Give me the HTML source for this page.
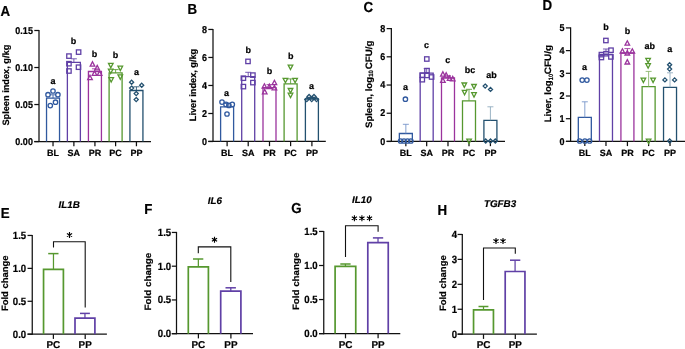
<!DOCTYPE html><html><head><meta charset="utf-8"><title>Figure</title><style>html,body{margin:0;padding:0;background:#fff;}svg{display:block;will-change:transform;text-rendering:geometricPrecision;font-family:"Liberation Sans",sans-serif;}text{stroke:#000;stroke-width:0.2px;}</style></head><body>
<svg width="685" height="349" viewBox="0 0 685 349">
<rect width="685" height="349" fill="#fff"/>
<line x1="39" y1="29.95" x2="39" y2="142.1" stroke="#111" stroke-width="1.25" />
<line x1="34.3" y1="30.5" x2="39" y2="30.5" stroke="#111" stroke-width="1.25" />
<text transform="translate(32.9,33.7) scale(1,1.1)" x="0" y="0" text-anchor="end" font-size="9" font-weight="bold" font-style="normal" fill="#000" >0.15</text>
<line x1="34.3" y1="67.52" x2="39" y2="67.52" stroke="#111" stroke-width="1.25" />
<text transform="translate(32.9,70.72) scale(1,1.1)" x="0" y="0" text-anchor="end" font-size="9" font-weight="bold" font-style="normal" fill="#000" >0.10</text>
<line x1="34.3" y1="104.53" x2="39" y2="104.53" stroke="#111" stroke-width="1.25" />
<text transform="translate(32.9,107.73) scale(1,1.1)" x="0" y="0" text-anchor="end" font-size="9" font-weight="bold" font-style="normal" fill="#000" >0.05</text>
<line x1="34.3" y1="141.55" x2="39" y2="141.55" stroke="#111" stroke-width="1.25" />
<text transform="translate(32.9,144.75) scale(1,1.1)" x="0" y="0" text-anchor="end" font-size="9" font-weight="bold" font-style="normal" fill="#000" >0.00</text>
<line x1="34.3" y1="141.55" x2="151" y2="141.55" stroke="#111" stroke-width="1.25" />
<line x1="53.03" y1="141.55" x2="53.03" y2="146.25" stroke="#111" stroke-width="1.25" />
<text x="53.03" y="156.2" text-anchor="middle" font-size="9" font-weight="bold" font-style="normal" fill="#000" >BL</text>
<line x1="73.88" y1="141.55" x2="73.88" y2="146.25" stroke="#111" stroke-width="1.25" />
<text x="73.88" y="156.2" text-anchor="middle" font-size="9" font-weight="bold" font-style="normal" fill="#000" >SA</text>
<line x1="94.93" y1="141.55" x2="94.93" y2="146.25" stroke="#111" stroke-width="1.25" />
<text x="94.93" y="156.2" text-anchor="middle" font-size="9" font-weight="bold" font-style="normal" fill="#000" >PR</text>
<line x1="115.6" y1="141.55" x2="115.6" y2="146.25" stroke="#111" stroke-width="1.25" />
<text x="115.6" y="156.2" text-anchor="middle" font-size="9" font-weight="bold" font-style="normal" fill="#000" >PC</text>
<line x1="136.43" y1="141.55" x2="136.43" y2="146.25" stroke="#111" stroke-width="1.25" />
<text x="136.43" y="156.2" text-anchor="middle" font-size="9" font-weight="bold" font-style="normal" fill="#000" >PP</text>
<polyline points="46.53,141.55 46.53,98.2 59.53,98.2 59.53,141.55" fill="none" stroke="#30599f" stroke-width="1.3" stroke-linejoin="miter"/>
<line x1="53.03" y1="98.2" x2="53.03" y2="94.8" stroke="#30599f" stroke-width="0.85" />
<line x1="50.03" y1="94.8" x2="56.03" y2="94.8" stroke="#30599f" stroke-width="0.85" />
<circle cx="53" cy="91" r="2.2" fill="none" stroke="#30599f" stroke-width="1.3"/>
<circle cx="48" cy="94.7" r="2.2" fill="none" stroke="#30599f" stroke-width="1.3"/>
<circle cx="57.9" cy="94.7" r="2.2" fill="none" stroke="#30599f" stroke-width="1.3"/>
<circle cx="55.5" cy="102.2" r="2.2" fill="none" stroke="#30599f" stroke-width="1.3"/>
<circle cx="50.3" cy="105.6" r="2.2" fill="none" stroke="#30599f" stroke-width="1.3"/>
<text x="52.9" y="83.6" text-anchor="middle" font-size="9" font-weight="bold" font-style="normal" fill="#000" >a</text>
<polyline points="67.38,141.55 67.38,62.3 80.38,62.3 80.38,141.55" fill="none" stroke="#6040a6" stroke-width="1.3" stroke-linejoin="miter"/>
<line x1="73.88" y1="62.3" x2="73.88" y2="58.8" stroke="#6040a6" stroke-width="0.85" />
<line x1="70.88" y1="58.8" x2="76.88" y2="58.8" stroke="#6040a6" stroke-width="0.85" />
<rect x="76.4" y="49.9" width="4.4" height="4.4" fill="none" stroke="#6040a6" stroke-width="1.3"/>
<rect x="66.75" y="53.9" width="4.4" height="4.4" fill="none" stroke="#6040a6" stroke-width="1.3"/>
<rect x="66.75" y="61.5" width="4.4" height="4.4" fill="none" stroke="#6040a6" stroke-width="1.3"/>
<rect x="76.3" y="65" width="4.4" height="4.4" fill="none" stroke="#6040a6" stroke-width="1.3"/>
<rect x="66.75" y="68.8" width="4.4" height="4.4" fill="none" stroke="#6040a6" stroke-width="1.3"/>
<text x="73.5" y="43.6" text-anchor="middle" font-size="9" font-weight="bold" font-style="normal" fill="#000" >b</text>
<polyline points="88.43,141.55 88.43,71.5 101.43,71.5 101.43,141.55" fill="none" stroke="#9b339d" stroke-width="1.3" stroke-linejoin="miter"/>
<line x1="94.93" y1="71.5" x2="94.93" y2="68.8" stroke="#9b339d" stroke-width="0.85" />
<line x1="91.93" y1="68.8" x2="97.93" y2="68.8" stroke="#9b339d" stroke-width="0.85" />
<polygon points="92.5,61.7 94.8,66.1 90.2,66.1" fill="none" stroke="#9b339d" stroke-width="1.3" stroke-linejoin="miter"/>
<polygon points="97.2,65.4 99.5,69.8 94.9,69.8" fill="none" stroke="#9b339d" stroke-width="1.3" stroke-linejoin="miter"/>
<polygon points="94.5,71 96.8,75.4 92.2,75.4" fill="none" stroke="#9b339d" stroke-width="1.3" stroke-linejoin="miter"/>
<polygon points="99.6,71 101.9,75.4 97.3,75.4" fill="none" stroke="#9b339d" stroke-width="1.3" stroke-linejoin="miter"/>
<polygon points="90,75.2 92.3,79.6 87.7,79.6" fill="none" stroke="#9b339d" stroke-width="1.3" stroke-linejoin="miter"/>
<text x="94.5" y="56.8" text-anchor="middle" font-size="9" font-weight="bold" font-style="normal" fill="#000" >b</text>
<polyline points="109.1,141.55 109.1,72.9 122.1,72.9 122.1,141.55" fill="none" stroke="#56982f" stroke-width="1.3" stroke-linejoin="miter"/>
<line x1="115.6" y1="72.9" x2="115.6" y2="69.6" stroke="#56982f" stroke-width="0.85" />
<line x1="112.6" y1="69.6" x2="118.6" y2="69.6" stroke="#56982f" stroke-width="0.85" />
<polygon points="110.8,67.8 113.1,63.4 108.5,63.4" fill="none" stroke="#56982f" stroke-width="1.3" stroke-linejoin="miter"/>
<polygon points="120.3,70.6 122.6,66.2 118,66.2" fill="none" stroke="#56982f" stroke-width="1.3" stroke-linejoin="miter"/>
<polygon points="110.7,73.5 113,69.1 108.4,69.1" fill="none" stroke="#56982f" stroke-width="1.3" stroke-linejoin="miter"/>
<polygon points="120.3,79.3 122.6,74.9 118,74.9" fill="none" stroke="#56982f" stroke-width="1.3" stroke-linejoin="miter"/>
<polygon points="111.2,82 113.5,77.6 108.9,77.6" fill="none" stroke="#56982f" stroke-width="1.3" stroke-linejoin="miter"/>
<text x="115.4" y="57.7" text-anchor="middle" font-size="9" font-weight="bold" font-style="normal" fill="#000" >b</text>
<polyline points="129.93,141.55 129.93,90.5 142.93,90.5 142.93,141.55" fill="none" stroke="#23506f" stroke-width="1.3" stroke-linejoin="miter"/>
<line x1="136.43" y1="90.5" x2="136.43" y2="86.8" stroke="#23506f" stroke-width="0.85" />
<line x1="133.43" y1="86.8" x2="139.43" y2="86.8" stroke="#23506f" stroke-width="0.85" />
<polygon points="131.6,80.15 133.65,82.2 131.6,84.25 129.55,82.2" fill="none" stroke="#23506f" stroke-width="1.3" stroke-linejoin="miter"/>
<polygon points="141.7,83.15 143.75,85.2 141.7,87.25 139.65,85.2" fill="none" stroke="#23506f" stroke-width="1.3" stroke-linejoin="miter"/>
<polygon points="131.6,86.05 133.65,88.1 131.6,90.15 129.55,88.1" fill="none" stroke="#23506f" stroke-width="1.3" stroke-linejoin="miter"/>
<polygon points="136.2,91.55 138.25,93.6 136.2,95.65 134.15,93.6" fill="none" stroke="#23506f" stroke-width="1.3" stroke-linejoin="miter"/>
<polygon points="136.2,97.55 138.25,99.6 136.2,101.65 134.15,99.6" fill="none" stroke="#23506f" stroke-width="1.3" stroke-linejoin="miter"/>
<text x="136.4" y="74.7" text-anchor="middle" font-size="9" font-weight="bold" font-style="normal" fill="#000" >a</text>
<text transform="translate(9.4,125.6) rotate(-90)" x="0" y="0" text-anchor="start" font-size="9.25" font-weight="bold" fill="#000" textLength="80.9" lengthAdjust="spacingAndGlyphs">Spleen index, g/kg</text>
<text transform="translate(0.6,15.6) scale(1,1.09)" x="0" y="0" text-anchor="start" font-size="13.3" font-weight="bold" font-style="normal" fill="#000" >A</text>
<line x1="213" y1="28.9" x2="213" y2="142" stroke="#111" stroke-width="1.25" />
<line x1="208.3" y1="29.45" x2="213" y2="29.45" stroke="#111" stroke-width="1.25" />
<text transform="translate(206.9,32.65) scale(1,1.1)" x="0" y="0" text-anchor="end" font-size="9" font-weight="bold" font-style="normal" fill="#000" >8</text>
<line x1="208.3" y1="57.46" x2="213" y2="57.46" stroke="#111" stroke-width="1.25" />
<text transform="translate(206.9,60.66) scale(1,1.1)" x="0" y="0" text-anchor="end" font-size="9" font-weight="bold" font-style="normal" fill="#000" >6</text>
<line x1="208.3" y1="85.47" x2="213" y2="85.47" stroke="#111" stroke-width="1.25" />
<text transform="translate(206.9,88.67) scale(1,1.1)" x="0" y="0" text-anchor="end" font-size="9" font-weight="bold" font-style="normal" fill="#000" >4</text>
<line x1="208.3" y1="113.49" x2="213" y2="113.49" stroke="#111" stroke-width="1.25" />
<text transform="translate(206.9,116.69) scale(1,1.1)" x="0" y="0" text-anchor="end" font-size="9" font-weight="bold" font-style="normal" fill="#000" >2</text>
<line x1="208.3" y1="141.5" x2="213" y2="141.5" stroke="#111" stroke-width="1.25" />
<text transform="translate(206.9,144.7) scale(1,1.1)" x="0" y="0" text-anchor="end" font-size="9" font-weight="bold" font-style="normal" fill="#000" >0</text>
<line x1="208.3" y1="141.45" x2="325.8" y2="141.45" stroke="#111" stroke-width="1.25" />
<line x1="227.11" y1="141.45" x2="227.11" y2="146.15" stroke="#111" stroke-width="1.25" />
<text x="227.11" y="156" text-anchor="middle" font-size="9" font-weight="bold" font-style="normal" fill="#000" >BL</text>
<line x1="248.21" y1="141.45" x2="248.21" y2="146.15" stroke="#111" stroke-width="1.25" />
<text x="248.21" y="156" text-anchor="middle" font-size="9" font-weight="bold" font-style="normal" fill="#000" >SA</text>
<line x1="269.5" y1="141.45" x2="269.5" y2="146.15" stroke="#111" stroke-width="1.25" />
<text x="269.5" y="156" text-anchor="middle" font-size="9" font-weight="bold" font-style="normal" fill="#000" >PR</text>
<line x1="290.6" y1="141.45" x2="290.6" y2="146.15" stroke="#111" stroke-width="1.25" />
<text x="290.6" y="156" text-anchor="middle" font-size="9" font-weight="bold" font-style="normal" fill="#000" >PC</text>
<line x1="311.9" y1="141.45" x2="311.9" y2="146.15" stroke="#111" stroke-width="1.25" />
<text x="311.9" y="156" text-anchor="middle" font-size="9" font-weight="bold" font-style="normal" fill="#000" >PP</text>
<polyline points="220.61,141.45 220.61,106.8 233.61,106.8 233.61,141.45" fill="none" stroke="#30599f" stroke-width="1.3" stroke-linejoin="miter"/>
<line x1="227.11" y1="106.8" x2="227.11" y2="103.5" stroke="#30599f" stroke-width="0.85" />
<line x1="224.11" y1="103.5" x2="230.11" y2="103.5" stroke="#30599f" stroke-width="0.85" />
<circle cx="222" cy="102.1" r="2.2" fill="none" stroke="#30599f" stroke-width="1.3"/>
<circle cx="226" cy="104.4" r="2.2" fill="none" stroke="#30599f" stroke-width="1.3"/>
<circle cx="228.9" cy="105.4" r="2.2" fill="none" stroke="#30599f" stroke-width="1.3"/>
<circle cx="232.3" cy="104.4" r="2.2" fill="none" stroke="#30599f" stroke-width="1.3"/>
<circle cx="227" cy="114" r="2.2" fill="none" stroke="#30599f" stroke-width="1.3"/>
<text x="226.6" y="95.6" text-anchor="middle" font-size="9" font-weight="bold" font-style="normal" fill="#000" >a</text>
<polyline points="241.71,141.45 241.71,76.6 254.71,76.6 254.71,141.45" fill="none" stroke="#6040a6" stroke-width="1.3" stroke-linejoin="miter"/>
<line x1="248.21" y1="76.6" x2="248.21" y2="72.3" stroke="#6040a6" stroke-width="0.85" />
<line x1="245.21" y1="72.3" x2="251.21" y2="72.3" stroke="#6040a6" stroke-width="0.85" />
<rect x="245.8" y="59.2" width="4.4" height="4.4" fill="none" stroke="#6040a6" stroke-width="1.3"/>
<rect x="250.7" y="72.9" width="4.4" height="4.4" fill="none" stroke="#6040a6" stroke-width="1.3"/>
<rect x="241.2" y="76" width="4.4" height="4.4" fill="none" stroke="#6040a6" stroke-width="1.3"/>
<rect x="250.7" y="80.4" width="4.4" height="4.4" fill="none" stroke="#6040a6" stroke-width="1.3"/>
<rect x="241.2" y="84.4" width="4.4" height="4.4" fill="none" stroke="#6040a6" stroke-width="1.3"/>
<text x="248.3" y="53.2" text-anchor="middle" font-size="9" font-weight="bold" font-style="normal" fill="#000" >b</text>
<polyline points="263,141.45 263,87.7 276,87.7 276,141.45" fill="none" stroke="#9b339d" stroke-width="1.3" stroke-linejoin="miter"/>
<line x1="269.5" y1="87.7" x2="269.5" y2="84.6" stroke="#9b339d" stroke-width="0.85" />
<line x1="266.5" y1="84.6" x2="272.5" y2="84.6" stroke="#9b339d" stroke-width="0.85" />
<polygon points="264.4,83.8 266.7,88.2 262.1,88.2" fill="none" stroke="#9b339d" stroke-width="1.3" stroke-linejoin="miter"/>
<polygon points="269.3,84.1 271.6,88.5 267,88.5" fill="none" stroke="#9b339d" stroke-width="1.3" stroke-linejoin="miter"/>
<polygon points="274.4,80.3 276.7,84.7 272.1,84.7" fill="none" stroke="#9b339d" stroke-width="1.3" stroke-linejoin="miter"/>
<polygon points="274.4,85.4 276.7,89.8 272.1,89.8" fill="none" stroke="#9b339d" stroke-width="1.3" stroke-linejoin="miter"/>
<polygon points="264.7,89.4 267,93.8 262.4,93.8" fill="none" stroke="#9b339d" stroke-width="1.3" stroke-linejoin="miter"/>
<text x="269.5" y="74.4" text-anchor="middle" font-size="9" font-weight="bold" font-style="normal" fill="#000" >b</text>
<polyline points="284.1,141.45 284.1,83.8 297.1,83.8 297.1,141.45" fill="none" stroke="#56982f" stroke-width="1.3" stroke-linejoin="miter"/>
<line x1="290.6" y1="83.8" x2="290.6" y2="78.9" stroke="#56982f" stroke-width="0.85" />
<line x1="287.6" y1="78.9" x2="293.6" y2="78.9" stroke="#56982f" stroke-width="0.85" />
<polygon points="290.5,69.5 292.8,65.1 288.2,65.1" fill="none" stroke="#56982f" stroke-width="1.3" stroke-linejoin="miter"/>
<polygon points="285.4,82.7 287.7,78.3 283.1,78.3" fill="none" stroke="#56982f" stroke-width="1.3" stroke-linejoin="miter"/>
<polygon points="295.1,82.7 297.4,78.3 292.8,78.3" fill="none" stroke="#56982f" stroke-width="1.3" stroke-linejoin="miter"/>
<polygon points="290.5,92.9 292.8,88.5 288.2,88.5" fill="none" stroke="#56982f" stroke-width="1.3" stroke-linejoin="miter"/>
<polygon points="290.5,97.6 292.8,93.2 288.2,93.2" fill="none" stroke="#56982f" stroke-width="1.3" stroke-linejoin="miter"/>
<text x="290.7" y="59.3" text-anchor="middle" font-size="9" font-weight="bold" font-style="normal" fill="#000" >b</text>
<polyline points="305.4,141.45 305.4,99 318.4,99 318.4,141.45" fill="none" stroke="#23506f" stroke-width="1.3" stroke-linejoin="miter"/>
<line x1="311.9" y1="99" x2="311.9" y2="97.2" stroke="#23506f" stroke-width="0.85" />
<line x1="308.9" y1="97.2" x2="314.9" y2="97.2" stroke="#23506f" stroke-width="0.85" />
<polygon points="306.8,97.55 308.85,99.6 306.8,101.65 304.75,99.6" fill="none" stroke="#23506f" stroke-width="1.3" stroke-linejoin="miter"/>
<polygon points="309.1,94.45 311.15,96.5 309.1,98.55 307.05,96.5" fill="none" stroke="#23506f" stroke-width="1.3" stroke-linejoin="miter"/>
<polygon points="311.7,97.55 313.75,99.6 311.7,101.65 309.65,99.6" fill="none" stroke="#23506f" stroke-width="1.3" stroke-linejoin="miter"/>
<polygon points="314,94.45 316.05,96.5 314,98.55 311.95,96.5" fill="none" stroke="#23506f" stroke-width="1.3" stroke-linejoin="miter"/>
<polygon points="316.5,97.55 318.55,99.6 316.5,101.65 314.45,99.6" fill="none" stroke="#23506f" stroke-width="1.3" stroke-linejoin="miter"/>
<text x="311.6" y="88.8" text-anchor="middle" font-size="9" font-weight="bold" font-style="normal" fill="#000" >a</text>
<text transform="translate(195.8,121.2) rotate(-90)" x="0" y="0" text-anchor="start" font-size="9.25" font-weight="bold" fill="#000" textLength="72.4" lengthAdjust="spacingAndGlyphs">Liver index, g/kg</text>
<text transform="translate(187.6,13.8) scale(1,1.09)" x="0" y="0" text-anchor="start" font-size="13.3" font-weight="bold" font-style="normal" fill="#000" >B</text>
<line x1="391.35" y1="28.05" x2="391.35" y2="142" stroke="#111" stroke-width="1.25" />
<line x1="386.65" y1="28.6" x2="391.35" y2="28.6" stroke="#111" stroke-width="1.25" />
<text transform="translate(385.25,31.8) scale(1,1.1)" x="0" y="0" text-anchor="end" font-size="9" font-weight="bold" font-style="normal" fill="#000" >8</text>
<line x1="386.65" y1="56.81" x2="391.35" y2="56.81" stroke="#111" stroke-width="1.25" />
<text transform="translate(385.25,60.01) scale(1,1.1)" x="0" y="0" text-anchor="end" font-size="9" font-weight="bold" font-style="normal" fill="#000" >6</text>
<line x1="386.65" y1="85.03" x2="391.35" y2="85.03" stroke="#111" stroke-width="1.25" />
<text transform="translate(385.25,88.23) scale(1,1.1)" x="0" y="0" text-anchor="end" font-size="9" font-weight="bold" font-style="normal" fill="#000" >4</text>
<line x1="386.65" y1="113.24" x2="391.35" y2="113.24" stroke="#111" stroke-width="1.25" />
<text transform="translate(385.25,116.44) scale(1,1.1)" x="0" y="0" text-anchor="end" font-size="9" font-weight="bold" font-style="normal" fill="#000" >2</text>
<line x1="386.65" y1="141.45" x2="391.35" y2="141.45" stroke="#111" stroke-width="1.25" />
<text transform="translate(385.25,144.65) scale(1,1.1)" x="0" y="0" text-anchor="end" font-size="9" font-weight="bold" font-style="normal" fill="#000" >0</text>
<line x1="386.65" y1="141.45" x2="505" y2="141.45" stroke="#111" stroke-width="1.25" />
<line x1="405.85" y1="141.45" x2="405.85" y2="146.15" stroke="#111" stroke-width="1.25" />
<text x="405.85" y="155.8" text-anchor="middle" font-size="9" font-weight="bold" font-style="normal" fill="#000" >BL</text>
<line x1="426.68" y1="141.45" x2="426.68" y2="146.15" stroke="#111" stroke-width="1.25" />
<text x="426.68" y="155.8" text-anchor="middle" font-size="9" font-weight="bold" font-style="normal" fill="#000" >SA</text>
<line x1="447.99" y1="141.45" x2="447.99" y2="146.15" stroke="#111" stroke-width="1.25" />
<text x="447.99" y="155.8" text-anchor="middle" font-size="9" font-weight="bold" font-style="normal" fill="#000" >PR</text>
<line x1="469" y1="141.45" x2="469" y2="146.15" stroke="#111" stroke-width="1.25" />
<text x="469" y="155.8" text-anchor="middle" font-size="9" font-weight="bold" font-style="normal" fill="#000" >PC</text>
<line x1="490.41" y1="141.45" x2="490.41" y2="146.15" stroke="#111" stroke-width="1.25" />
<text x="490.41" y="155.8" text-anchor="middle" font-size="9" font-weight="bold" font-style="normal" fill="#000" >PP</text>
<polyline points="399.35,141.45 399.35,133.5 412.35,133.5 412.35,141.45" fill="none" stroke="#30599f" stroke-width="1.3" stroke-linejoin="miter"/>
<line x1="405.85" y1="133.5" x2="405.85" y2="124.3" stroke="#6f8fc6" stroke-width="0.85" />
<line x1="402.85" y1="124.3" x2="408.85" y2="124.3" stroke="#6f8fc6" stroke-width="0.85" />
<circle cx="405.4" cy="99.2" r="2.2" fill="none" stroke="#30599f" stroke-width="1.3"/>
<circle cx="400.6" cy="141" r="2.2" fill="none" stroke="#30599f" stroke-width="1.3"/>
<circle cx="404" cy="141" r="2.2" fill="none" stroke="#30599f" stroke-width="1.3"/>
<circle cx="407.5" cy="141" r="2.2" fill="none" stroke="#30599f" stroke-width="1.3"/>
<circle cx="410.9" cy="141" r="2.2" fill="none" stroke="#30599f" stroke-width="1.3"/>
<text x="405.4" y="89.7" text-anchor="middle" font-size="9" font-weight="bold" font-style="normal" fill="#000" >a</text>
<polyline points="420.18,141.45 420.18,73.2 433.18,73.2 433.18,141.45" fill="none" stroke="#6040a6" stroke-width="1.3" stroke-linejoin="miter"/>
<line x1="426.68" y1="73.2" x2="426.68" y2="68.6" stroke="#6040a6" stroke-width="0.85" />
<line x1="423.68" y1="68.6" x2="429.68" y2="68.6" stroke="#6040a6" stroke-width="0.85" />
<rect x="424.6" y="56.8" width="4.4" height="4.4" fill="none" stroke="#6040a6" stroke-width="1.3"/>
<rect x="424.8" y="68.4" width="4.4" height="4.4" fill="none" stroke="#6040a6" stroke-width="1.3"/>
<rect x="420.1" y="73" width="4.4" height="4.4" fill="none" stroke="#6040a6" stroke-width="1.3"/>
<rect x="424.8" y="73.2" width="4.4" height="4.4" fill="none" stroke="#6040a6" stroke-width="1.3"/>
<rect x="429.4" y="74.8" width="4.4" height="4.4" fill="none" stroke="#6040a6" stroke-width="1.3"/>
<rect x="420.1" y="77.5" width="4.4" height="4.4" fill="none" stroke="#6040a6" stroke-width="1.3"/>
<text x="426.5" y="48.1" text-anchor="middle" font-size="9" font-weight="bold" font-style="normal" fill="#000" >c</text>
<polyline points="441.49,141.45 441.49,78 454.49,78 454.49,141.45" fill="none" stroke="#9b339d" stroke-width="1.3" stroke-linejoin="miter"/>
<line x1="447.99" y1="78" x2="447.99" y2="75.8" stroke="#9b339d" stroke-width="0.85" />
<line x1="444.99" y1="75.8" x2="450.99" y2="75.8" stroke="#9b339d" stroke-width="0.85" />
<polygon points="442.9,71.7 445.2,76.1 440.6,76.1" fill="none" stroke="#9b339d" stroke-width="1.3" stroke-linejoin="miter"/>
<polygon points="446.2,72.7 448.5,77.1 443.9,77.1" fill="none" stroke="#9b339d" stroke-width="1.3" stroke-linejoin="miter"/>
<polygon points="449.6,75.9 451.9,80.3 447.3,80.3" fill="none" stroke="#9b339d" stroke-width="1.3" stroke-linejoin="miter"/>
<polygon points="452.7,76.4 455,80.8 450.4,80.8" fill="none" stroke="#9b339d" stroke-width="1.3" stroke-linejoin="miter"/>
<polygon points="442.9,78 445.2,82.4 440.6,82.4" fill="none" stroke="#9b339d" stroke-width="1.3" stroke-linejoin="miter"/>
<text x="447.7" y="63.2" text-anchor="middle" font-size="9" font-weight="bold" font-style="normal" fill="#000" >c</text>
<polyline points="462.5,141.45 462.5,100.8 475.5,100.8 475.5,141.45" fill="none" stroke="#56982f" stroke-width="1.3" stroke-linejoin="miter"/>
<line x1="469" y1="100.8" x2="469" y2="89.3" stroke="#56982f" stroke-width="0.85" />
<line x1="466" y1="89.3" x2="472" y2="89.3" stroke="#56982f" stroke-width="0.85" />
<polygon points="464.3,87.4 466.6,83 462,83" fill="none" stroke="#56982f" stroke-width="1.3" stroke-linejoin="miter"/>
<polygon points="474,88.9 476.3,84.5 471.7,84.5" fill="none" stroke="#56982f" stroke-width="1.3" stroke-linejoin="miter"/>
<polygon points="464.6,94.8 466.9,90.4 462.3,90.4" fill="none" stroke="#56982f" stroke-width="1.3" stroke-linejoin="miter"/>
<polygon points="474,97.1 476.3,92.7 471.7,92.7" fill="none" stroke="#56982f" stroke-width="1.3" stroke-linejoin="miter"/>
<polygon points="469.1,143.5 471.4,139.1 466.8,139.1" fill="none" stroke="#56982f" stroke-width="1.3" stroke-linejoin="miter"/>
<text x="470" y="72.6" text-anchor="middle" font-size="9" font-weight="bold" font-style="normal" fill="#000" >bc</text>
<polyline points="483.91,141.45 483.91,120.3 496.91,120.3 496.91,141.45" fill="none" stroke="#23506f" stroke-width="1.3" stroke-linejoin="miter"/>
<line x1="490.41" y1="120.3" x2="490.41" y2="106.8" stroke="#8aa6ba" stroke-width="0.85" />
<line x1="487.41" y1="106.8" x2="493.41" y2="106.8" stroke="#8aa6ba" stroke-width="0.85" />
<polygon points="485.2,84.05 487.25,86.1 485.2,88.15 483.15,86.1" fill="none" stroke="#23506f" stroke-width="1.3" stroke-linejoin="miter"/>
<polygon points="490.5,87.35 492.55,89.4 490.5,91.45 488.45,89.4" fill="none" stroke="#23506f" stroke-width="1.3" stroke-linejoin="miter"/>
<polygon points="485.7,138.95 487.75,141 485.7,143.05 483.65,141" fill="none" stroke="#23506f" stroke-width="1.3" stroke-linejoin="miter"/>
<polygon points="490.5,138.95 492.55,141 490.5,143.05 488.45,141" fill="none" stroke="#23506f" stroke-width="1.3" stroke-linejoin="miter"/>
<polygon points="495.3,138.95 497.35,141 495.3,143.05 493.25,141" fill="none" stroke="#23506f" stroke-width="1.3" stroke-linejoin="miter"/>
<text x="491.4" y="78.3" text-anchor="middle" font-size="9" font-weight="bold" font-style="normal" fill="#000" >ab</text>
<text transform="translate(371.6,128) rotate(-90)" x="0" y="0" text-anchor="start" font-size="9.3" font-weight="bold" fill="#000" textLength="51" lengthAdjust="spacingAndGlyphs">Spleen, log</text>
<text transform="translate(373.4,76.8) rotate(-90)" x="0" y="0" text-anchor="start" font-size="6.3" font-weight="bold" fill="#000" textLength="6.6" lengthAdjust="spacingAndGlyphs">10</text>
<text transform="translate(371.6,69.2) rotate(-90)" x="0" y="0" text-anchor="start" font-size="9.3" font-weight="bold" fill="#000" textLength="28.6" lengthAdjust="spacingAndGlyphs">CFU/g</text>
<text transform="translate(363.6,11.5) scale(1,1.09)" x="0" y="0" text-anchor="start" font-size="13.3" font-weight="bold" font-style="normal" fill="#000" >C</text>
<line x1="570.6" y1="27.35" x2="570.6" y2="141.95" stroke="#111" stroke-width="1.25" />
<line x1="565.9" y1="27.9" x2="570.6" y2="27.9" stroke="#111" stroke-width="1.25" />
<text transform="translate(564.5,31.1) scale(1,1.1)" x="0" y="0" text-anchor="end" font-size="9" font-weight="bold" font-style="normal" fill="#000" >5</text>
<line x1="565.9" y1="50.6" x2="570.6" y2="50.6" stroke="#111" stroke-width="1.25" />
<text transform="translate(564.5,53.8) scale(1,1.1)" x="0" y="0" text-anchor="end" font-size="9" font-weight="bold" font-style="normal" fill="#000" >4</text>
<line x1="565.9" y1="73.3" x2="570.6" y2="73.3" stroke="#111" stroke-width="1.25" />
<text transform="translate(564.5,76.5) scale(1,1.1)" x="0" y="0" text-anchor="end" font-size="9" font-weight="bold" font-style="normal" fill="#000" >3</text>
<line x1="565.9" y1="96" x2="570.6" y2="96" stroke="#111" stroke-width="1.25" />
<text transform="translate(564.5,99.2) scale(1,1.1)" x="0" y="0" text-anchor="end" font-size="9" font-weight="bold" font-style="normal" fill="#000" >2</text>
<line x1="565.9" y1="118.7" x2="570.6" y2="118.7" stroke="#111" stroke-width="1.25" />
<text transform="translate(564.5,121.9) scale(1,1.1)" x="0" y="0" text-anchor="end" font-size="9" font-weight="bold" font-style="normal" fill="#000" >1</text>
<line x1="565.9" y1="141.4" x2="570.6" y2="141.4" stroke="#111" stroke-width="1.25" />
<text transform="translate(564.5,144.6) scale(1,1.1)" x="0" y="0" text-anchor="end" font-size="9" font-weight="bold" font-style="normal" fill="#000" >0</text>
<line x1="565.9" y1="141.4" x2="686" y2="141.4" stroke="#111" stroke-width="1.25" />
<line x1="584.82" y1="141.4" x2="584.82" y2="146.1" stroke="#111" stroke-width="1.25" />
<text x="584.82" y="156.2" text-anchor="middle" font-size="9" font-weight="bold" font-style="normal" fill="#000" >BL</text>
<line x1="605.98" y1="141.4" x2="605.98" y2="146.1" stroke="#111" stroke-width="1.25" />
<text x="605.98" y="156.2" text-anchor="middle" font-size="9" font-weight="bold" font-style="normal" fill="#000" >SA</text>
<line x1="627.42" y1="141.4" x2="627.42" y2="146.1" stroke="#111" stroke-width="1.25" />
<text x="627.42" y="156.2" text-anchor="middle" font-size="9" font-weight="bold" font-style="normal" fill="#000" >PR</text>
<line x1="648.62" y1="141.4" x2="648.62" y2="146.1" stroke="#111" stroke-width="1.25" />
<text x="648.62" y="156.2" text-anchor="middle" font-size="9" font-weight="bold" font-style="normal" fill="#000" >PC</text>
<line x1="670.03" y1="141.4" x2="670.03" y2="146.1" stroke="#111" stroke-width="1.25" />
<text x="670.03" y="156.2" text-anchor="middle" font-size="9" font-weight="bold" font-style="normal" fill="#000" >PP</text>
<polyline points="578.32,141.4 578.32,117.45 591.32,117.45 591.32,141.4" fill="none" stroke="#30599f" stroke-width="1.3" stroke-linejoin="miter"/>
<line x1="584.82" y1="117.45" x2="584.82" y2="101.8" stroke="#6f8fc6" stroke-width="0.85" />
<line x1="581.82" y1="101.8" x2="587.82" y2="101.8" stroke="#6f8fc6" stroke-width="0.85" />
<circle cx="582.2" cy="80.1" r="2.2" fill="none" stroke="#30599f" stroke-width="1.3"/>
<circle cx="586.9" cy="80.1" r="2.2" fill="none" stroke="#30599f" stroke-width="1.3"/>
<circle cx="579.7" cy="141" r="2.2" fill="none" stroke="#30599f" stroke-width="1.3"/>
<circle cx="584.9" cy="141" r="2.2" fill="none" stroke="#30599f" stroke-width="1.3"/>
<circle cx="589.6" cy="141" r="2.2" fill="none" stroke="#30599f" stroke-width="1.3"/>
<text x="584.5" y="69.8" text-anchor="middle" font-size="9" font-weight="bold" font-style="normal" fill="#000" >a</text>
<polyline points="599.48,141.4 599.48,54.4 612.48,54.4 612.48,141.4" fill="none" stroke="#6040a6" stroke-width="1.3" stroke-linejoin="miter"/>
<line x1="605.98" y1="54.4" x2="605.98" y2="49" stroke="#6040a6" stroke-width="0.85" />
<line x1="602.98" y1="49" x2="608.98" y2="49" stroke="#6040a6" stroke-width="0.85" />
<rect x="603.7" y="38.3" width="4.4" height="4.4" fill="none" stroke="#6040a6" stroke-width="1.3"/>
<rect x="608.8" y="48" width="4.4" height="4.4" fill="none" stroke="#6040a6" stroke-width="1.3"/>
<rect x="603.8" y="51.5" width="4.4" height="4.4" fill="none" stroke="#6040a6" stroke-width="1.3"/>
<rect x="599.2" y="52.4" width="4.4" height="4.4" fill="none" stroke="#6040a6" stroke-width="1.3"/>
<rect x="599.2" y="55.3" width="4.4" height="4.4" fill="none" stroke="#6040a6" stroke-width="1.3"/>
<rect x="608.7" y="54.7" width="4.4" height="4.4" fill="none" stroke="#6040a6" stroke-width="1.3"/>
<text x="606.1" y="30.1" text-anchor="middle" font-size="9" font-weight="bold" font-style="normal" fill="#000" >b</text>
<polyline points="620.92,141.4 620.92,53 633.92,53 633.92,141.4" fill="none" stroke="#9b339d" stroke-width="1.3" stroke-linejoin="miter"/>
<line x1="627.42" y1="53" x2="627.42" y2="48.6" stroke="#9b339d" stroke-width="0.85" />
<line x1="624.42" y1="48.6" x2="630.42" y2="48.6" stroke="#9b339d" stroke-width="0.85" />
<polygon points="627.3,40.8 629.6,45.2 625,45.2" fill="none" stroke="#9b339d" stroke-width="1.3" stroke-linejoin="miter"/>
<polygon points="622.4,48.8 624.7,53.2 620.1,53.2" fill="none" stroke="#9b339d" stroke-width="1.3" stroke-linejoin="miter"/>
<polygon points="627.3,50.6 629.6,55 625,55" fill="none" stroke="#9b339d" stroke-width="1.3" stroke-linejoin="miter"/>
<polygon points="632.3,48.8 634.6,53.2 630,53.2" fill="none" stroke="#9b339d" stroke-width="1.3" stroke-linejoin="miter"/>
<polygon points="627.3,59.6 629.6,64 625,64" fill="none" stroke="#9b339d" stroke-width="1.3" stroke-linejoin="miter"/>
<text x="627.4" y="33.5" text-anchor="middle" font-size="9" font-weight="bold" font-style="normal" fill="#000" >b</text>
<polyline points="642.12,141.4 642.12,86.6 655.12,86.6 655.12,141.4" fill="none" stroke="#56982f" stroke-width="1.3" stroke-linejoin="miter"/>
<line x1="648.62" y1="86.6" x2="648.62" y2="71.4" stroke="#86b266" stroke-width="0.85" />
<line x1="645.62" y1="71.4" x2="651.62" y2="71.4" stroke="#86b266" stroke-width="0.85" />
<polygon points="648.1,62.7 650.4,58.3 645.8,58.3" fill="none" stroke="#56982f" stroke-width="1.3" stroke-linejoin="miter"/>
<polygon points="648.1,68.1 650.4,63.7 645.8,63.7" fill="none" stroke="#56982f" stroke-width="1.3" stroke-linejoin="miter"/>
<polygon points="643.4,82.5 645.7,78.1 641.1,78.1" fill="none" stroke="#56982f" stroke-width="1.3" stroke-linejoin="miter"/>
<polygon points="653.1,82.5 655.4,78.1 650.8,78.1" fill="none" stroke="#56982f" stroke-width="1.3" stroke-linejoin="miter"/>
<polygon points="648.6,143.5 650.9,139.1 646.3,139.1" fill="none" stroke="#56982f" stroke-width="1.3" stroke-linejoin="miter"/>
<text x="649.8" y="49" text-anchor="middle" font-size="9" font-weight="bold" font-style="normal" fill="#000" >ab</text>
<polyline points="663.53,141.4 663.53,87.3 676.53,87.3 676.53,141.4" fill="none" stroke="#23506f" stroke-width="1.3" stroke-linejoin="miter"/>
<line x1="670.03" y1="87.3" x2="670.03" y2="72.8" stroke="#8aa6ba" stroke-width="0.85" />
<line x1="667.03" y1="72.8" x2="673.03" y2="72.8" stroke="#8aa6ba" stroke-width="0.85" />
<polygon points="669.6,62.65 671.65,64.7 669.6,66.75 667.55,64.7" fill="none" stroke="#23506f" stroke-width="1.3" stroke-linejoin="miter"/>
<polygon points="669.6,67.05 671.65,69.1 669.6,71.15 667.55,69.1" fill="none" stroke="#23506f" stroke-width="1.3" stroke-linejoin="miter"/>
<polygon points="664.9,77.85 666.95,79.9 664.9,81.95 662.85,79.9" fill="none" stroke="#23506f" stroke-width="1.3" stroke-linejoin="miter"/>
<polygon points="674.6,77.85 676.65,79.9 674.6,81.95 672.55,79.9" fill="none" stroke="#23506f" stroke-width="1.3" stroke-linejoin="miter"/>
<polygon points="669.7,138.95 671.75,141 669.7,143.05 667.65,141" fill="none" stroke="#23506f" stroke-width="1.3" stroke-linejoin="miter"/>
<text x="669.7" y="51.9" text-anchor="middle" font-size="9" font-weight="bold" font-style="normal" fill="#000" >a</text>
<text transform="translate(551,122.2) rotate(-90)" x="0" y="0" text-anchor="start" font-size="9.3" font-weight="bold" fill="#000" textLength="41.8" lengthAdjust="spacingAndGlyphs">Liver, log</text>
<text transform="translate(552.8,80.2) rotate(-90)" x="0" y="0" text-anchor="start" font-size="6.3" font-weight="bold" fill="#000" textLength="6.2" lengthAdjust="spacingAndGlyphs">10</text>
<text transform="translate(551,74.2) rotate(-90)" x="0" y="0" text-anchor="start" font-size="9.3" font-weight="bold" fill="#000" textLength="29.2" lengthAdjust="spacingAndGlyphs">CFU/g</text>
<text transform="translate(542.6,10.3) scale(1,1.09)" x="0" y="0" text-anchor="start" font-size="13.3" font-weight="bold" font-style="normal" fill="#000" >D</text>
<line x1="32.25" y1="234.9" x2="32.25" y2="334.75" stroke="#111" stroke-width="1.25" />
<line x1="27.55" y1="235.45" x2="32.25" y2="235.45" stroke="#111" stroke-width="1.25" />
<text transform="translate(26.15,238.85) scale(1,1.1)" x="0" y="0" text-anchor="end" font-size="9.6" font-weight="bold" font-style="normal" fill="#000" >1.5</text>
<line x1="27.55" y1="268.37" x2="32.25" y2="268.37" stroke="#111" stroke-width="1.25" />
<text transform="translate(26.15,271.77) scale(1,1.1)" x="0" y="0" text-anchor="end" font-size="9.6" font-weight="bold" font-style="normal" fill="#000" >1.0</text>
<line x1="27.55" y1="301.28" x2="32.25" y2="301.28" stroke="#111" stroke-width="1.25" />
<text transform="translate(26.15,304.68) scale(1,1.1)" x="0" y="0" text-anchor="end" font-size="9.6" font-weight="bold" font-style="normal" fill="#000" >0.5</text>
<line x1="27.55" y1="334.2" x2="32.25" y2="334.2" stroke="#111" stroke-width="1.25" />
<text transform="translate(26.15,337.6) scale(1,1.1)" x="0" y="0" text-anchor="end" font-size="9.6" font-weight="bold" font-style="normal" fill="#000" >0.0</text>
<line x1="27.55" y1="334.2" x2="106.9" y2="334.2" stroke="#111" stroke-width="1.25" />
<line x1="53.4" y1="334.2" x2="53.4" y2="338.9" stroke="#111" stroke-width="1.25" />
<text x="53.4" y="348.2" text-anchor="middle" font-size="9.9" font-weight="bold" font-style="normal" fill="#000" >PC</text>
<line x1="85.2" y1="334.2" x2="85.2" y2="338.9" stroke="#111" stroke-width="1.25" />
<text x="85.2" y="348.2" text-anchor="middle" font-size="9.9" font-weight="bold" font-style="normal" fill="#000" >PP</text>
<polyline points="43.55,334.2 43.55,269.3 63.4,269.3 63.4,334.2" fill="none" stroke="#56982f" stroke-width="1.7" stroke-linejoin="miter"/>
<line x1="53.47" y1="269.3" x2="53.47" y2="253.6" stroke="#56982f" stroke-width="1.25" />
<line x1="48.2" y1="253.6" x2="58.5" y2="253.6" stroke="#56982f" stroke-width="1.5" />
<polyline points="75,334.2 75,318.1 94.9,318.1 94.9,334.2" fill="none" stroke="#6040a6" stroke-width="1.7" stroke-linejoin="miter"/>
<line x1="84.95" y1="318.1" x2="84.95" y2="313.4" stroke="#6040a6" stroke-width="1.25" />
<line x1="80" y1="313.4" x2="89.9" y2="313.4" stroke="#6040a6" stroke-width="1.5" />
<polyline points="53.5,247.6 53.5,241.8 85.2,241.8 85.2,307.5" fill="none" stroke="#111" stroke-width="1.1" stroke-linejoin="miter"/>
<path d="M69.5,231.9L69.5,237.9M66.9,233.4L72.1,236.4M72.1,233.4L66.9,236.4" stroke="#000" stroke-width="1.1" fill="none"/>
<circle cx="69.5" cy="234.9" r="1.15" fill="#000"/>
<text x="58.6" y="208.2" text-anchor="start" font-size="9.8" font-weight="bold" font-style="italic" fill="#000" >IL1B</text>
<text transform="translate(7.9,283.3) rotate(-90)" x="0" y="0" text-anchor="middle" font-size="9.2" font-weight="bold" fill="#000" textLength="55.6" lengthAdjust="spacingAndGlyphs">Fold change</text>
<text transform="translate(0.7,217.5) scale(1,1.09)" x="0" y="0" text-anchor="start" font-size="13.3" font-weight="bold" font-style="normal" fill="#000" >E</text>
<line x1="176.5" y1="231.9" x2="176.5" y2="334.25" stroke="#111" stroke-width="1.25" />
<line x1="171.8" y1="232.45" x2="176.5" y2="232.45" stroke="#111" stroke-width="1.25" />
<text transform="translate(171.2,235.85) scale(1,1.1)" x="0" y="0" text-anchor="end" font-size="9.6" font-weight="bold" font-style="normal" fill="#000" >1.5</text>
<line x1="171.8" y1="266.2" x2="176.5" y2="266.2" stroke="#111" stroke-width="1.25" />
<text transform="translate(171.2,269.6) scale(1,1.1)" x="0" y="0" text-anchor="end" font-size="9.6" font-weight="bold" font-style="normal" fill="#000" >1.0</text>
<line x1="171.8" y1="299.95" x2="176.5" y2="299.95" stroke="#111" stroke-width="1.25" />
<text transform="translate(171.2,303.35) scale(1,1.1)" x="0" y="0" text-anchor="end" font-size="9.6" font-weight="bold" font-style="normal" fill="#000" >0.5</text>
<line x1="171.8" y1="333.7" x2="176.5" y2="333.7" stroke="#111" stroke-width="1.25" />
<text transform="translate(171.2,337.1) scale(1,1.1)" x="0" y="0" text-anchor="end" font-size="9.6" font-weight="bold" font-style="normal" fill="#000" >0.0</text>
<line x1="171.8" y1="333.7" x2="253" y2="333.7" stroke="#111" stroke-width="1.25" />
<line x1="198.4" y1="333.7" x2="198.4" y2="338.4" stroke="#111" stroke-width="1.25" />
<text x="198.4" y="348.2" text-anchor="middle" font-size="9.9" font-weight="bold" font-style="normal" fill="#000" >PC</text>
<line x1="230.9" y1="333.7" x2="230.9" y2="338.4" stroke="#111" stroke-width="1.25" />
<text x="230.9" y="348.2" text-anchor="middle" font-size="9.9" font-weight="bold" font-style="normal" fill="#000" >PP</text>
<polyline points="188.3,333.7 188.3,266.8 208.4,266.8 208.4,333.7" fill="none" stroke="#56982f" stroke-width="1.7" stroke-linejoin="miter"/>
<line x1="198.35" y1="266.8" x2="198.35" y2="259" stroke="#56982f" stroke-width="1.25" />
<line x1="193" y1="259" x2="203.3" y2="259" stroke="#56982f" stroke-width="1.5" />
<polyline points="220.7,333.7 220.7,291.1 240.9,291.1 240.9,333.7" fill="none" stroke="#6040a6" stroke-width="1.7" stroke-linejoin="miter"/>
<line x1="230.8" y1="291.1" x2="230.8" y2="287.8" stroke="#6040a6" stroke-width="1.25" />
<line x1="225.5" y1="287.8" x2="235.9" y2="287.8" stroke="#6040a6" stroke-width="1.5" />
<polyline points="198.3,253.2 198.3,246.9 230.8,246.9 230.8,282" fill="none" stroke="#111" stroke-width="1.1" stroke-linejoin="miter"/>
<path d="M214.5,236.7L214.5,242.7M211.9,238.2L217.1,241.2M217.1,238.2L211.9,241.2" stroke="#000" stroke-width="1.1" fill="none"/>
<circle cx="214.5" cy="239.7" r="1.15" fill="#000"/>
<text x="207.8" y="203.9" text-anchor="start" font-size="9.8" font-weight="bold" font-style="italic" fill="#000" >IL6</text>
<text transform="translate(150.9,281.6) rotate(-90)" x="0" y="0" text-anchor="middle" font-size="9.2" font-weight="bold" fill="#000" textLength="57.8" lengthAdjust="spacingAndGlyphs">Fold change</text>
<text transform="translate(144.3,213.6) scale(1,1.09)" x="0" y="0" text-anchor="start" font-size="13.3" font-weight="bold" font-style="normal" fill="#000" >F</text>
<line x1="323.75" y1="230.9" x2="323.75" y2="334.15" stroke="#111" stroke-width="1.25" />
<line x1="319.05" y1="231.45" x2="323.75" y2="231.45" stroke="#111" stroke-width="1.25" />
<text transform="translate(317.65,234.85) scale(1,1.1)" x="0" y="0" text-anchor="end" font-size="9.6" font-weight="bold" font-style="normal" fill="#000" >1.5</text>
<line x1="319.05" y1="265.5" x2="323.75" y2="265.5" stroke="#111" stroke-width="1.25" />
<text transform="translate(317.65,268.9) scale(1,1.1)" x="0" y="0" text-anchor="end" font-size="9.6" font-weight="bold" font-style="normal" fill="#000" >1.0</text>
<line x1="319.05" y1="299.55" x2="323.75" y2="299.55" stroke="#111" stroke-width="1.25" />
<text transform="translate(317.65,302.95) scale(1,1.1)" x="0" y="0" text-anchor="end" font-size="9.6" font-weight="bold" font-style="normal" fill="#000" >0.5</text>
<line x1="319.05" y1="333.6" x2="323.75" y2="333.6" stroke="#111" stroke-width="1.25" />
<text transform="translate(317.65,337) scale(1,1.1)" x="0" y="0" text-anchor="end" font-size="9.6" font-weight="bold" font-style="normal" fill="#000" >0.0</text>
<line x1="319.05" y1="333.6" x2="400.3" y2="333.6" stroke="#111" stroke-width="1.25" />
<line x1="345.5" y1="333.6" x2="345.5" y2="338.3" stroke="#111" stroke-width="1.25" />
<text x="345.5" y="348.2" text-anchor="middle" font-size="9.9" font-weight="bold" font-style="normal" fill="#000" >PC</text>
<line x1="378.1" y1="333.6" x2="378.1" y2="338.3" stroke="#111" stroke-width="1.25" />
<text x="378.1" y="348.2" text-anchor="middle" font-size="9.9" font-weight="bold" font-style="normal" fill="#000" >PP</text>
<polyline points="335.1,333.6 335.1,266.3 355.75,266.3 355.75,333.6" fill="none" stroke="#56982f" stroke-width="1.7" stroke-linejoin="miter"/>
<line x1="345.43" y1="266.3" x2="345.43" y2="264" stroke="#56982f" stroke-width="1.25" />
<line x1="340.3" y1="264" x2="350.6" y2="264" stroke="#56982f" stroke-width="1.5" />
<polyline points="367.8,333.6 367.8,242.6 388.25,242.6 388.25,333.6" fill="none" stroke="#6040a6" stroke-width="1.7" stroke-linejoin="miter"/>
<line x1="378.02" y1="242.6" x2="378.02" y2="237.9" stroke="#6040a6" stroke-width="1.25" />
<line x1="372.9" y1="237.9" x2="383.2" y2="237.9" stroke="#6040a6" stroke-width="1.5" />
<polyline points="345.5,257 345.5,225.8 378.1,225.8 378.1,231.7" fill="none" stroke="#111" stroke-width="1.1" stroke-linejoin="miter"/>
<path d="M354.4,215.2L354.4,221.2M351.8,216.7L357,219.7M357,216.7L351.8,219.7" stroke="#000" stroke-width="1.1" fill="none"/>
<circle cx="354.4" cy="218.2" r="1.15" fill="#000"/>
<path d="M361.9,215.2L361.9,221.2M359.3,216.7L364.5,219.7M364.5,216.7L359.3,219.7" stroke="#000" stroke-width="1.1" fill="none"/>
<circle cx="361.9" cy="218.2" r="1.15" fill="#000"/>
<path d="M369.5,215.2L369.5,221.2M366.9,216.7L372.1,219.7M372.1,216.7L366.9,219.7" stroke="#000" stroke-width="1.1" fill="none"/>
<circle cx="369.5" cy="218.2" r="1.15" fill="#000"/>
<text x="352" y="202.8" text-anchor="start" font-size="9.8" font-weight="bold" font-style="italic" fill="#000" >IL10</text>
<text transform="translate(299.4,281.4) rotate(-90)" x="0" y="0" text-anchor="middle" font-size="9.2" font-weight="bold" fill="#000" textLength="57.4" lengthAdjust="spacingAndGlyphs">Fold change</text>
<text transform="translate(291.3,212.7) scale(1,1.09)" x="0" y="0" text-anchor="start" font-size="13.3" font-weight="bold" font-style="normal" fill="#000" >G</text>
<line x1="462.3" y1="233.9" x2="462.3" y2="334.75" stroke="#111" stroke-width="1.25" />
<line x1="457.6" y1="234.45" x2="462.3" y2="234.45" stroke="#111" stroke-width="1.25" />
<text transform="translate(457.1,237.85) scale(1,1.1)" x="0" y="0" text-anchor="end" font-size="9.6" font-weight="bold" font-style="normal" fill="#000" >4</text>
<line x1="457.6" y1="259.39" x2="462.3" y2="259.39" stroke="#111" stroke-width="1.25" />
<text transform="translate(457.1,262.79) scale(1,1.1)" x="0" y="0" text-anchor="end" font-size="9.6" font-weight="bold" font-style="normal" fill="#000" >3</text>
<line x1="457.6" y1="284.32" x2="462.3" y2="284.32" stroke="#111" stroke-width="1.25" />
<text transform="translate(457.1,287.72) scale(1,1.1)" x="0" y="0" text-anchor="end" font-size="9.6" font-weight="bold" font-style="normal" fill="#000" >2</text>
<line x1="457.6" y1="309.26" x2="462.3" y2="309.26" stroke="#111" stroke-width="1.25" />
<text transform="translate(457.1,312.66) scale(1,1.1)" x="0" y="0" text-anchor="end" font-size="9.6" font-weight="bold" font-style="normal" fill="#000" >1</text>
<line x1="457.6" y1="334.2" x2="462.3" y2="334.2" stroke="#111" stroke-width="1.25" />
<text transform="translate(457.1,337.6) scale(1,1.1)" x="0" y="0" text-anchor="end" font-size="9.6" font-weight="bold" font-style="normal" fill="#000" >0</text>
<line x1="457.6" y1="334.2" x2="536.9" y2="334.2" stroke="#111" stroke-width="1.25" />
<line x1="483.5" y1="334.2" x2="483.5" y2="338.9" stroke="#111" stroke-width="1.25" />
<text x="483.5" y="348.2" text-anchor="middle" font-size="9.9" font-weight="bold" font-style="normal" fill="#000" >PC</text>
<line x1="515.3" y1="334.2" x2="515.3" y2="338.9" stroke="#111" stroke-width="1.25" />
<text x="515.3" y="348.2" text-anchor="middle" font-size="9.9" font-weight="bold" font-style="normal" fill="#000" >PP</text>
<polyline points="473.55,334.2 473.55,309.8 493.45,309.8 493.45,334.2" fill="none" stroke="#56982f" stroke-width="1.7" stroke-linejoin="miter"/>
<line x1="483.5" y1="309.8" x2="483.5" y2="306.5" stroke="#56982f" stroke-width="1.25" />
<line x1="478.5" y1="306.5" x2="488.4" y2="306.5" stroke="#56982f" stroke-width="1.5" />
<polyline points="505.2,334.2 505.2,271.5 524.95,271.5 524.95,334.2" fill="none" stroke="#6040a6" stroke-width="1.7" stroke-linejoin="miter"/>
<line x1="515.08" y1="271.5" x2="515.08" y2="260.2" stroke="#6040a6" stroke-width="1.25" />
<line x1="510" y1="260.2" x2="520.3" y2="260.2" stroke="#6040a6" stroke-width="1.5" />
<polyline points="483.5,300 483.5,248 515.3,248 515.3,253.8" fill="none" stroke="#111" stroke-width="1.1" stroke-linejoin="miter"/>
<path d="M496,237.9L496,243.9M493.4,239.4L498.6,242.4M498.6,239.4L493.4,242.4" stroke="#000" stroke-width="1.1" fill="none"/>
<circle cx="496" cy="240.9" r="1.15" fill="#000"/>
<path d="M503,237.9L503,243.9M500.4,239.4L505.6,242.4M505.6,239.4L500.4,242.4" stroke="#000" stroke-width="1.1" fill="none"/>
<circle cx="503" cy="240.9" r="1.15" fill="#000"/>
<text x="484" y="206.5" text-anchor="start" font-size="9.8" font-weight="bold" font-style="italic" fill="#000" >TGFB3</text>
<text transform="translate(446.2,283.2) rotate(-90)" x="0" y="0" text-anchor="middle" font-size="9.2" font-weight="bold" fill="#000" textLength="55.8" lengthAdjust="spacingAndGlyphs">Fold change</text>
<text transform="translate(437.6,215.1) scale(1,1.09)" x="0" y="0" text-anchor="start" font-size="13.3" font-weight="bold" font-style="normal" fill="#000" >H</text>
</svg></body></html>
